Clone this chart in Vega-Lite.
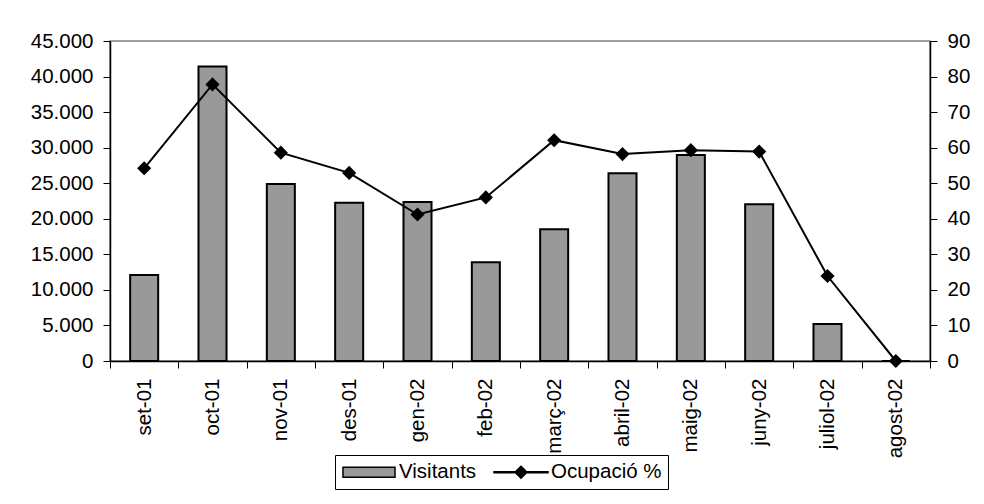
{
  "$schema": "https://vega.github.io/schema/vega-lite/v6.json",
  "autosize": {"type": "none"},
  "width": 820,
  "height": 320,
  "padding": {"left": 110, "top": 41, "right": 54, "bottom": 143},
  "background": "white",
  "config": {
    "font": "Liberation Sans",
    "view": {"stroke": "#808080", "strokeWidth": 1.5, "fill": "white"},
    "axis": {
      "labelFont": "Liberation Sans",
      "labelFontSize": 20.5,
      "labelColor": "black",
      "domainColor": "black",
      "domainWidth": 1.5,
      "tickColor": "black",
      "tickWidth": 1,
      "tickSize": 7,
      "labelPadding": 10,
      "grid": false,
      "title": null
    }
  },
  "datasets": {
    "mesos": [
      {"mes": "set-01", "visitants": 12100, "ocupacio": 54.2},
      {"mes": "oct-01", "visitants": 41400, "ocupacio": 77.8},
      {"mes": "nov-01", "visitants": 24900, "ocupacio": 58.6},
      {"mes": "des-01", "visitants": 22250, "ocupacio": 52.9},
      {"mes": "gen-02", "visitants": 22350, "ocupacio": 41.2},
      {"mes": "feb-02", "visitants": 13880, "ocupacio": 46.0},
      {"mes": "març-02", "visitants": 18520, "ocupacio": 62.1},
      {"mes": "abril-02", "visitants": 26400, "ocupacio": 58.2},
      {"mes": "maig-02", "visitants": 28970, "ocupacio": 59.3},
      {"mes": "juny-02", "visitants": 22030, "ocupacio": 58.9},
      {"mes": "juliol-02", "visitants": 5200, "ocupacio": 23.9},
      {"mes": "agost-02", "visitants": 0, "ocupacio": 0}
    ],
    "llegenda": [
      {"serie": "Visitants"},
      {"serie": "Ocupació %"}
    ]
  },
  "resolve": {"scale": {"y": "independent"}},
  "layer": [
    {
      "data": {"name": "mesos"},
      "mark": {"type": "bar", "fill": "#999999", "stroke": "black", "strokeWidth": 2, "width": {"band": 0.41}},
      "encoding": {
        "x": {
          "field": "mes", "type": "nominal", "sort": null,
          "scale": {"paddingInner": 0, "paddingOuter": 0},
          "axis": {
            "labelAngle": -90, "tickBand": "extent",
            "encode": {"ticks": {"update": {"y": {"value": -7}, "y2": {"value": 7}}}}
          }
        },
        "y": {
          "field": "visitants", "type": "quantitative",
          "scale": {"domain": [0, 45000], "nice": false},
          "axis": {
            "orient": "left",
            "values": [0, 5000, 10000, 15000, 20000, 25000, 30000, 35000, 40000, 45000],
            "labelExpr": "replace(format(datum.value, ','), ',', '.')",
            "encode": {"ticks": {"update": {"x": {"value": -7}, "x2": {"value": 7}}}}
          }
        }
      }
    },
    {
      "data": {"name": "mesos"},
      "mark": {
        "type": "line", "color": "black", "strokeWidth": 2,
        "point": {"shape": "diamond", "size": 200, "filled": true, "color": "black"}
      },
      "encoding": {
        "x": {"field": "mes", "type": "nominal", "sort": null},
        "y": {
          "field": "ocupacio", "type": "quantitative",
          "scale": {"domain": [0, 90], "nice": false},
          "axis": {
            "orient": "right",
            "values": [0, 10, 20, 30, 40, 50, 60, 70, 80, 90],
            "encode": {"ticks": {"update": {"x": {"value": -7}, "x2": {"value": 7}}}}
          }
        }
      }
    },
    {
      "data": {"name": "llegenda"},
      "mark": {"type": "point", "filled": true, "opacity": 0},
      "encoding": {
        "color": {
          "field": "serie", "type": "nominal",
          "scale": {"domain": ["Visitants", "Ocupació %"], "range": ["#999999", "black"]},
          "legend": {
            "title": null,
            "orient": "none",
            "legendX": 225,
            "legendY": 414,
            "direction": "horizontal",
            "strokeColor": "black",
            "fillColor": "white",
            "padding": 6,
            "columnPadding": 14,
            "symbolSize": 400,
            "symbolOffset": 17,
            "labelOffset": 19,
            "symbolOpacity": 1,
            "labelFont": "Liberation Sans",
            "labelFontSize": 20.5,
            "labelColor": "black",
            "encode": {"symbols": {"update": {"stroke": {"value": "black"}, "strokeWidth": {"value": 1.5}, "opacity": {"value": 1}}}}
          }
        },
        "shape": {
          "field": "serie", "type": "nominal",
          "scale": {"domain": ["Visitants", "Ocupació %"], "range": ["M-2.6,-0.5H2.6V0.5H-2.6Z", "M-2.7,-0.04H2.7V0.04H-2.7Z M0,-0.6L0.6,0L0,0.6L-0.6,0Z"]},
          "legend": null
        }
      }
    }
  ]
}
